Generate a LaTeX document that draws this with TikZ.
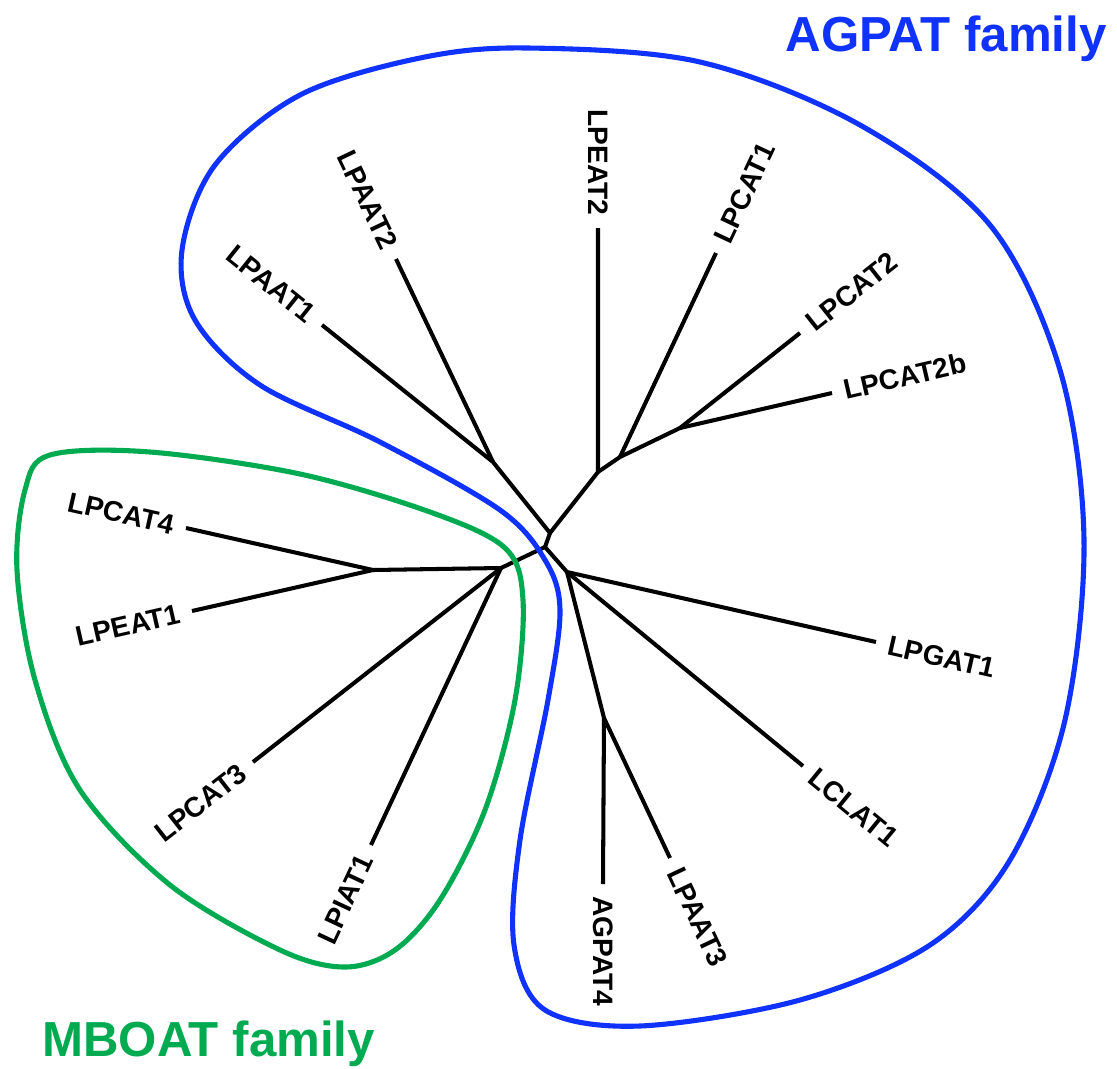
\documentclass[tikz,border=0pt]{standalone}
\usepackage{fontspec}
\setmainfont{Liberation Sans}
\usepackage{xcolor}
\definecolor{agpatblue}{RGB}{16,50,255}
\definecolor{mboatgreen}{RGB}{0,170,80}

\begin{document}
\begin{tikzpicture}[x=0.02cm, y=-0.02cm,
    branch/.style={line width=2.3pt, line join=round},
    leaf/.style={font=\fontsize{16}{19}\selectfont\bfseries, inner sep=0pt, inner xsep=7pt},
    family/.style={font=\fontsize{28}{32}\selectfont\bfseries, inner sep=0pt},
    contour/.style={line width=2.9pt}]
    \useasboundingbox (0,0) rectangle (1117,1069);

    % Internal nodes of the tree
    \coordinate (n1) at (550,533);
    \coordinate (n2) at (545,547);
    \coordinate (n3) at (501,568);
    \coordinate (n4) at (567,572);
    \coordinate (n5) at (373,570);
    \coordinate (nA) at (493,462);
    \coordinate (nB) at (598,472);
    \coordinate (nC) at (620,457);
    \coordinate (nD) at (680,428);
    \coordinate (nE) at (604,718);

    % Leaf ends
    \coordinate (lpaat1e) at (322,325);
    \coordinate (lpaat2e) at (396,259);
    \coordinate (lpeat2e) at (598,228);
    \coordinate (lpcat1e) at (716,253);
    \coordinate (lpcat2e) at (800,333);
    \coordinate (lpcat2be) at (832,393);
    \coordinate (lpgat1e) at (876,642);
    \coordinate (lclat1e) at (803,766);
    \coordinate (lpaat3e) at (670,858);
    \coordinate (agpat4e) at (603,884);
    \coordinate (lpiat1e) at (371,845);
    \coordinate (lpcat3e) at (253,762);
    \coordinate (lpeat1e) at (192,611);
    \coordinate (lpcat4e) at (186,528);

    % Branches
    \draw[branch] (lpaat1e) -- (nA) -- (n1) -- (nB) -- (lpeat2e);
    \draw[branch] (lpaat2e) -- (nA);
    \draw[branch] (nB) -- (nC) -- (nD) -- (lpcat2be);
    \draw[branch] (nC) -- (lpcat1e);
    \draw[branch] (nD) -- (lpcat2e);
    \draw[branch] (n1) -- (n2) -- (n4) -- (lpgat1e);
    \draw[branch] (n2) -- (n3) -- (n5) -- (lpcat4e);
    \draw[branch] (n5) -- (lpeat1e);
    \draw[branch] (n3) -- (lpcat3e);
    \draw[branch] (n3) -- (lpiat1e);
    \draw[branch] (n4) -- (lclat1e);
    \draw[branch] (n4) -- (nE) -- (agpat4e);
    \draw[branch] (nE) -- (lpaat3e);

    % Leaf labels
    \node (lpaat1) [leaf, rotate=-38.7, anchor=east] at (lpaat1e) {LPAAT1};
    \node (lpaat2) [leaf, rotate=-64.5, anchor=east] at (lpaat2e) {LPAAT2};
    \node (lpeat2) [leaf, rotate=-90, anchor=east] at (lpeat2e) {LPEAT2};
    \node (lpcat1) [leaf, rotate=64.8, anchor=west] at (lpcat1e) {LPCAT1};
    \node (lpcat2) [leaf, rotate=38.4, anchor=west] at (lpcat2e) {LPCAT2};
    \node (lpcat2b) [leaf, rotate=13, anchor=west] at (lpcat2be) {LPCAT2b};
    \node (lpgat1) [leaf, rotate=-12.8, anchor=west] at (lpgat1e) {LPGAT1};
    \node (lclat1) [leaf, rotate=-39.4, anchor=west] at (lclat1e) {LCLAT1};
    \node (lpaat3) [leaf, rotate=-64.8, anchor=west] at (lpaat3e) {LPAAT3};
    \node (agpat4) [leaf, rotate=-90, anchor=west] at (agpat4e) {AGPAT4};
    \node (lpiat1) [leaf, rotate=64.9, anchor=east] at (lpiat1e) {LPIAT1};
    \node (lpcat3) [leaf, rotate=38, anchor=east] at (lpcat3e) {LPCAT3};
    \node (lpeat1) [leaf, rotate=12.8, anchor=east] at (lpeat1e) {LPEAT1};
    \node (lpcat4) [leaf, rotate=-12.7, anchor=east] at (lpcat4e) {LPCAT4};

    % Family outlines
    \draw[contour, mboatgreen] plot[smooth cycle, tension=0.55] coordinates {
        (50,455) (150,452) (300,474) (430,512) (505,548) (523,600) (515,700)
        (485,810) (440,900) (395,950) (345,967) (280,950) (170,885) (80,790)
        (35,680) (17,570) (25,490)};
    \draw[contour, agpatblue] plot[smooth cycle, tension=0.55] coordinates {
        (527,48) (700,62) (860,125) (990,225) (1060,370) (1084,540) (1065,720)
        (1010,860) (930,945) (800,1000) (640,1026) (545,1010) (514,945)
        (520,840) (548,700) (560,610) (545,560) (500,510) (380,442) (260,385)
        (195,320) (182,250) (215,165) (300,95) (420,58)};

    % Family names
    \node (agpat) [family, text=agpatblue, anchor=base east] at (1107,51) {AGPAT family};
    \node (mboat) [family, text=mboatgreen, anchor=base west] at (42,1056) {MBOAT family};
\end{tikzpicture}
\end{document}
